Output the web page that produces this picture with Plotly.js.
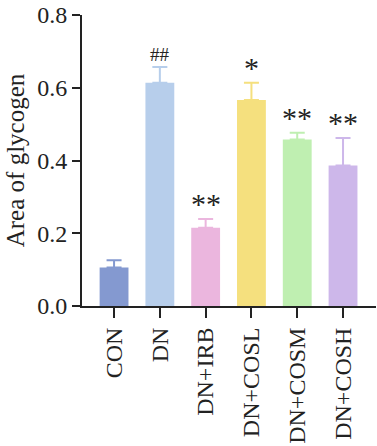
<!DOCTYPE html>
<html>
<head>
<meta charset="utf-8">
<script src="https://cdn.plot.ly/plotly-3.0.1.min.js"></script>
<style>html,body{margin:0;padding:0;background:#fff;}#chart{width:377px;height:446px;}</style>
</head>
<body>
<div id="chart"></div>
<script>
const categories = ["CON", "DN", "DN+IRB", "DN+COSL", "DN+COSM", "DN+COSH"];
const means = [0.106, 0.614, 0.215, 0.566, 0.458, 0.386];
const errors = [0.020, 0.043, 0.024, 0.048, 0.018, 0.076];
const marks = ["", "##", "**", "*", "**", "**"];
const colors = ["#8499D0", "#B7CEEB", "#EBB6DE", "#F5E07E", "#BFEFB1", "#CDB7EA"];

const font = "Liberation Serif";

const traces = categories.map((c, i) => ({
  type: "bar",
  x: [c],
  y: [means[i]],
  width: 0.63,
  marker: {color: colors[i], line: {width: 0}},
  error_y: {type: "data", array: [errors[i]], arrayminus: [0], symmetric: false,
            color: colors[i], thickness: 2, width: 7.5},
  showlegend: false,
  hoverinfo: "skip"
}));

const annotations = categories.map((c, i) => ({
  x: c, y: means[i] + errors[i], xref: "x", yref: "y",
  text: marks[i], showarrow: false, yanchor: "bottom",
  yshift: marks[i] === "##" ? 0 : -3,
  font: {family: font, size: marks[i] === "##" ? 19 : 30, color: "#222"}
}));

const layout = {
  width: 377, height: 446,
  margin: {l: 82, r: 1, t: 15, b: 140},
  paper_bgcolor: "#fff", plot_bgcolor: "#fff",
  font: {family: font, color: "#222", size: 21},
  xaxis: {
    type: "category", categoryorder: "array", categoryarray: categories,
    range: [-0.7, 5.72],
    showline: true, linecolor: "#222", linewidth: 2,
    ticks: "outside", ticklen: 10, tickwidth: 2, tickcolor: "#222",
    tickangle: -90, tickfont: {family: font, size: 24, color: "#222"},
    showgrid: false, zeroline: false, fixedrange: true
  },
  yaxis: {
    range: [0, 0.8], tickvals: [0, 0.2, 0.4, 0.6, 0.8],
    ticktext: ["0.0", "0.2", "0.4", "0.6", "0.8"],
    showline: true, linecolor: "#222", linewidth: 2,
    ticks: "outside", ticklen: 8, tickwidth: 2, tickcolor: "#222",
    tickfont: {family: font, size: 24, color: "#222"},
    title: {text: "Area of glycogen", font: {family: font, size: 25, color: "#222"}, standoff: 5},
    showgrid: false, zeroline: false, fixedrange: true
  },
  annotations: annotations
};

Plotly.newPlot("chart", traces, layout, {displayModeBar: false, staticPlot: true});
</script>
</body>
</html>
